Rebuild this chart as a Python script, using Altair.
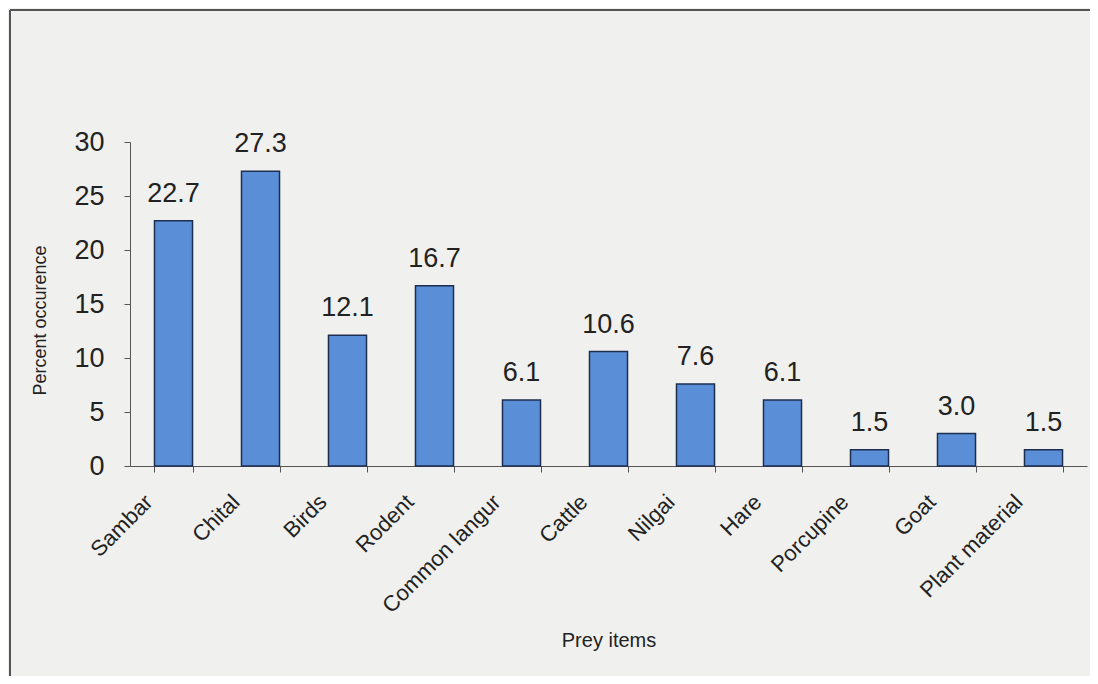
import altair as alt
import pandas as pd

categories = ["Sambar", "Chital", "Birds", "Rodent", "Common langur", "Cattle",
              "Nilgai", "Hare", "Porcupine", "Goat", "Plant material"]
values = [22.7, 27.3, 12.1, 16.7, 6.1, 10.6, 7.6, 6.1, 1.5, 3.0, 1.5]
labels = ["22.7", "27.3", "12.1", "16.7", "6.1", "10.6", "7.6", "6.1", "1.5", "3.0", "1.5"]
y_ticks = [0, 5, 10, 15, 20, 25, 30]

df = pd.DataFrame({"item": categories, "pct": values, "label": labels})

FONT = "Liberation Sans"
INK = "#222222"

x_enc = alt.X("item:N", sort=categories, title="Prey items",
              scale=alt.Scale(paddingInner=0.563, paddingOuter=0.2815),
              axis=alt.Axis(labelAngle=-45, labelFontSize=22, labelFont=FONT,
                            labelColor=INK, labelPadding=19, labelOffset=-32,
                            titleFontSize=20, titleFont=FONT, titleFontWeight="normal",
                            titleColor=INK, titleY=174, titleBaseline="middle",
                            tickBand="extent", tickSize=6, tickColor="#555",
                            domainColor="#555", domainWidth=1.2))
y_enc = alt.Y("pct:Q", title="Percent occurence",
              scale=alt.Scale(domain=[0, 30], nice=False),
              axis=alt.Axis(values=y_ticks, grid=False, labelFontSize=27,
                            labelFont=FONT, labelColor=INK, labelPadding=20,
                            titleFontSize=18, titleFont=FONT, titleFontWeight="normal",
                            titleColor=INK, titleX=-90, titleY=178,
                            titleBaseline="middle", titleAlign="center",
                            tickSize=6, tickColor="#555", domainColor="#555"))

bars = alt.Chart(df).mark_bar(fill="#5a8fd8", stroke="#1e2e50", strokeWidth=1.5).encode(
    x=x_enc, y=y_enc
)
text = alt.Chart(df).mark_text(font=FONT, fontSize=27, color=INK,
                               baseline="bottom", dy=-13).encode(
    x=alt.X("item:N", sort=categories),
    y=alt.Y("pct:Q"),
    text="label:N",
)
frame_top = alt.Chart(df).mark_rule(stroke="#555", strokeWidth=1.5, clip=False).encode(
    x=alt.value(-120), x2=alt.value(1000), y=alt.value(-132)
)
frame_left = alt.Chart(df).mark_rule(stroke="#555", strokeWidth=1.5, clip=False).encode(
    x=alt.value(-120), y=alt.value(-132), y2=alt.value(700)
)

chart = alt.layer(frame_top, frame_left, bars, text).properties(
    width=957, height=324,
    background="#f0f0ee",
    padding={"left": 122, "top": 134, "right": 3, "bottom": 210},
    autosize=alt.AutoSizeParams(type="none"),
).configure_view(stroke=None)

chart.save("out.html", embed_options={"renderer": "svg", "actions": False})
